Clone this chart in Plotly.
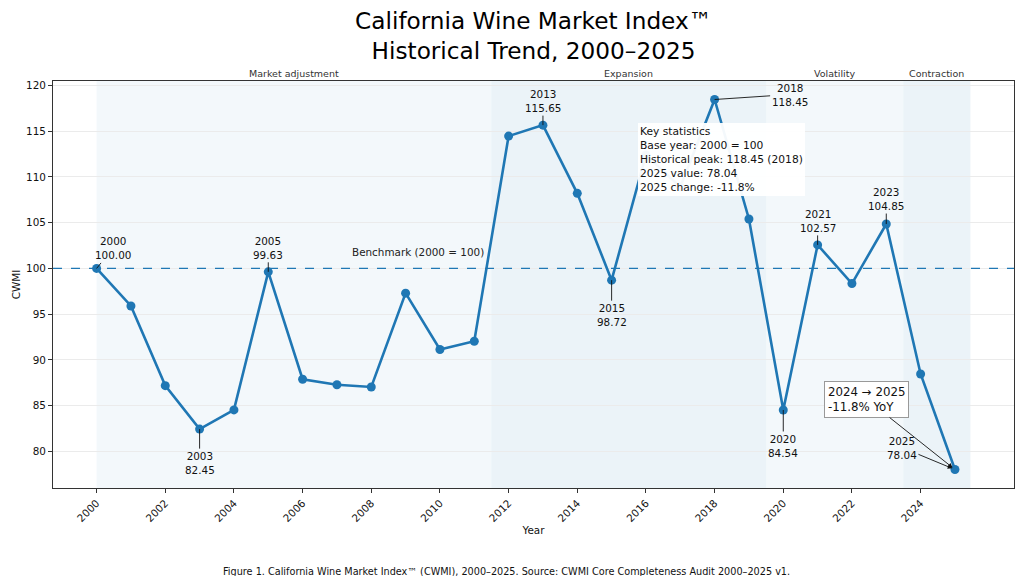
import plotly.graph_objects as go

# CWMI annual values (2016 and 2017 sit behind the stats box)
years = list(range(2000, 2026))
cwmi = [100.00, 95.90, 87.20, 82.45, 84.55, 99.63, 87.90, 87.30, 87.05, 97.30,
        91.15, 92.05, 114.45, 115.65, 108.20, 98.72, 112.40, 108.90, 118.45, 105.40,
        84.54, 102.57, 98.35, 104.85, 88.47, 78.04]

# market phases shown as shaded bands
phase_names = ["Market adjustment", "Expansion", "Volatility", "Contraction"]
phase_start = [2000, 2011.5, 2019.5, 2023.5]
phase_end = [2011.5, 2019.5, 2023.5, 2025.45]

# years that get a value label
label_years = [2000, 2003, 2005, 2013, 2015, 2018, 2020, 2021, 2023, 2025]

benchmark = 100
FONT = "DejaVu Sans"
BLUE = "#1f77b4"

# label offsets in pixels (tail of the connector relative to the point)
offsets = {2000: (16, -20), 2003: (0, 34), 2005: (0, -24), 2013: (0, -24),
           2015: (0, 35), 2018: (75, -5), 2020: (0, 36), 2021: (0, -24),
           2023: (0, -25), 2025: (-53, -22)}

fig = go.Figure()

fig.add_trace(go.Scatter(
    x=years, y=cwmi, mode="lines+markers",
    line=dict(color=BLUE, width=2.6),
    marker=dict(color=BLUE, size=9),
    showlegend=False, hoverinfo="x+y",
))

# phase bands
for i, name in enumerate(phase_names):
    alpha = 0.055 if i % 2 == 0 else 0.09
    fig.add_vrect(x0=phase_start[i], x1=phase_end[i],
                  fillcolor=f"rgba(31,119,180,{alpha})", line_width=0, layer="below")
    fig.add_annotation(x=(phase_start[i] + phase_end[i]) / 2, xref="x",
                       y=1, yref="y domain", yanchor="bottom", yshift=0,
                       text=name, showarrow=False,
                       font=dict(family=FONT, size=9.5, color="#333"))

# benchmark line
fig.add_hline(y=benchmark, line=dict(color=BLUE, width=1.3, dash="dash"))
fig.add_annotation(x=phase_end[0] - 0.15, y=benchmark, xanchor="right", yanchor="bottom",
                   yshift=8, text="Benchmark (2000 = 100)", showarrow=False,
                   font=dict(family=FONT, size=10.4, color="#222"))

# point labels
for yr in label_years:
    v = cwmi[years.index(yr)]
    ax, ay = offsets[yr]
    last = yr == years[-1]
    fig.add_annotation(x=yr, y=v, text=f"{yr}<br>{v:.2f}", showarrow=True,
                       ax=ax, ay=ay, arrowhead=2 if last else 0, arrowsize=1,
                       arrowwidth=0.9, arrowcolor="#111", standoff=3 if last else 0,
                       font=dict(family=FONT, size=10.4, color="#111"))

# YoY callout
prev, cur = cwmi[-2], cwmi[-1]
yoy = (cur / prev - 1) * 100
fig.add_annotation(x=years[-1], y=cur,
                   text=f"{years[-2]} → {years[-1]}<br>{yoy:.1f}% YoY",
                   showarrow=True, ax=-88, ay=-70, arrowhead=2, arrowsize=1,
                   arrowwidth=0.9, arrowcolor="#111", standoff=3, align="left",
                   bgcolor="white", bordercolor="#999", borderwidth=1, borderpad=3,
                   font=dict(family=FONT, size=11.8, color="#111"))

# key statistics box
peak = max(cwmi)
peak_year = years[cwmi.index(peak)]
stats = ("Key statistics<br>"
         f"Base year: {years[0]} = {benchmark}<br>"
         f"Historical peak: {peak:.2f} ({peak_year})<br>"
         f"{years[-1]} value: {cur:.2f}<br>"
         f"{years[-1]} change: {yoy:.1f}%")
fig.add_annotation(x=0.609, xref="x domain", y=0.898, yref="y domain",
                   xanchor="left", yanchor="top", text=stats, align="left",
                   showarrow=False, bgcolor="rgba(255,255,255,0.95)",
                   borderpad=2, borderwidth=0,
                   font=dict(family=FONT, size=10.7, color="#111"))

# caption
fig.add_annotation(x=0.4715, xref="paper", y=-0.204, yref="paper", yanchor="middle",
                   text="Figure 1. California Wine Market Index™ (CWMI), 2000–2025. "
                        "Source: CWMI Core Completeness Audit 2000–2025 v1.",
                   showarrow=False, font=dict(family=FONT, size=9.7, color="#111"))

# page body adds an 8px margin, so the figure is sized to fill the rest
fig.update_layout(
    width=1015, height=568,
    margin=dict(l=42, r=8, t=73, b=88),
    paper_bgcolor="white", plot_bgcolor="white",
    font=dict(family=FONT, size=10.4, color="#111"),
    title=dict(text="California Wine Market Index™<br>Historical Trend, 2000–2025",
               xref="paper", x=0.5, xanchor="center", y=0.9627, yanchor="top",
               font=dict(family=FONT, size=23.2, color="#000")),
    xaxis=dict(range=[1998.73, 2026.72], tickvals=list(range(2000, 2026, 2)),
               tickangle=-45, ticks="outside", ticklen=4, tickcolor="#333",
               showgrid=False, zeroline=False, showline=True, linecolor="#333",
               linewidth=1, mirror=True,
               title=dict(text="Year", font=dict(family=FONT, size=10.4), standoff=3)),
    yaxis=dict(range=[76.02, 120.47], dtick=5, ticks="outside", ticklen=4,
               tickcolor="#333", showgrid=True, gridcolor="#ebebeb", gridwidth=1,
               zeroline=False, showline=True, linecolor="#333", linewidth=1,
               mirror=True,
               title=dict(text="CWMI", font=dict(family=FONT, size=10.4), standoff=3)),
)

fig.write_html("out.html")
